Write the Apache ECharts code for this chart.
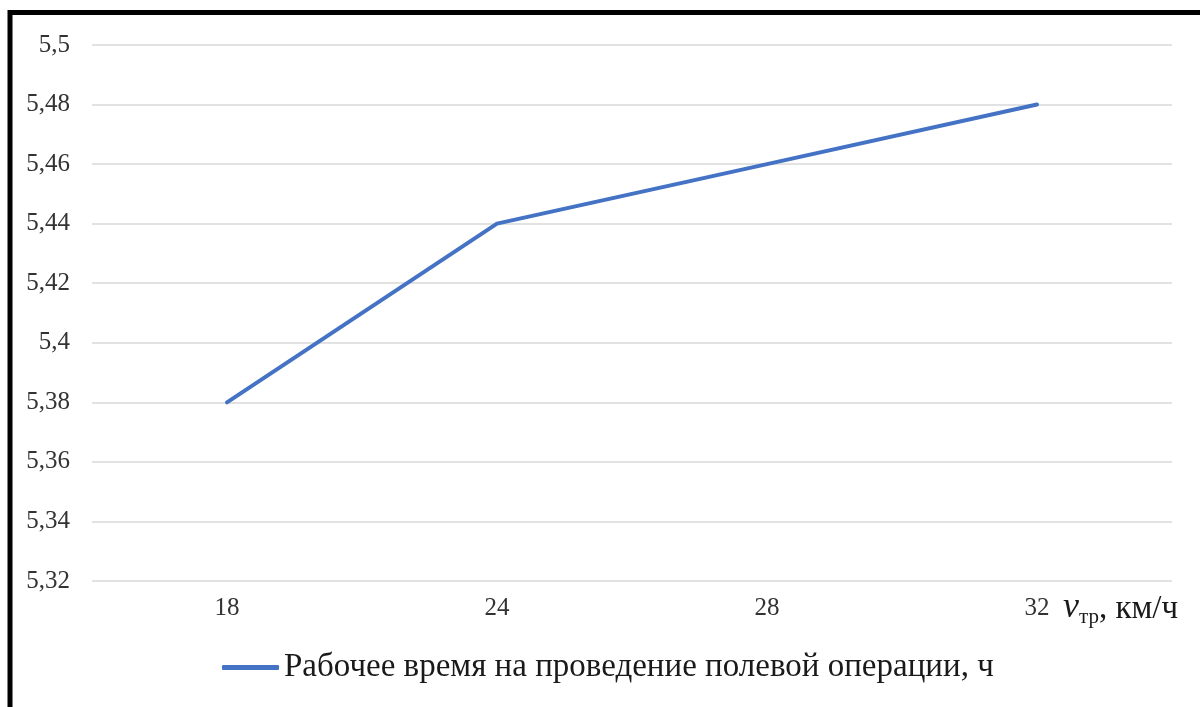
<!DOCTYPE html>
<html>
<head>
<meta charset="utf-8">
<script src="https://cdn.jsdelivr.net/npm/echarts@6/dist/echarts.min.js"></script>
<style>
  html, body { margin: 0; padding: 0; background: #fff; }
  #chart { width: 1200px; height: 707px; }
</style>
</head>
<body>
<div id="chart"></div>
<script>
// Tractor speed, km/h
const speeds = ['18', '24', '28', '32'];
// Working time for the field operation, h
const workTime = [5.38, 5.44, 5.46, 5.48];
const seriesName = 'Рабочее время на проведение полевой операции, ч';

const serif = '"Liberation Serif", "DejaVu Serif", serif';
const chart = echarts.init(document.getElementById('chart'));

chart.setOption({
  backgroundColor: '#ffffff',
  animation: false,
  graphic: [{
    type: 'rect',
    shape: { x: 10, y: 12.5, width: 1400, height: 900 },
    style: { fill: 'none', stroke: '#000', lineWidth: 5 },
    z: 100
  }],
  grid: { left: 92, right: 28, top: 45, bottom: 126 },
  legend: {
    data: [seriesName],
    left: 217,
    top: 646,
    icon: 'roundRect',
    itemWidth: 57,
    itemHeight: 5,
    itemGap: 2,
    textStyle: { fontFamily: serif, fontSize: 33, color: '#1a1a1a' }
  },
  xAxis: {
    type: 'category',
    data: speeds,
    boundaryGap: true,
    axisLine: { show: false },
    axisTick: { show: false },
    axisLabel: { fontFamily: serif, fontSize: 25, color: '#333', margin: 15 },
    name: '{v|v}{sub|тр}{t|, км/ч}',
    nameLocation: 'end',
    nameGap: -109,
    nameTextStyle: {
      verticalAlign: 'top',
      padding: [9, 0, 0, 0],
      rich: {
        v: { fontFamily: serif, fontStyle: 'italic', fontSize: 36, color: '#1a1a1a', verticalAlign: 'bottom', padding: [0, 0, 2, 0] },
        sub: { fontFamily: serif, fontSize: 21, color: '#1a1a1a', verticalAlign: 'bottom' },
        t: { fontFamily: serif, fontSize: 33, color: '#1a1a1a', verticalAlign: 'bottom', padding: [0, 0, 2, 0] }
      }
    }
  },
  yAxis: {
    type: 'value',
    min: 5.32,
    max: 5.5,
    interval: 0.02,
    axisLine: { show: false },
    axisTick: { show: false },
    splitLine: { lineStyle: { color: '#d9d9d9', width: 1.5 } },
    axisLabel: {
      fontFamily: serif, fontSize: 25, color: '#333', margin: 22,
      formatter: v => String(Number(v.toFixed(2))).replace('.', ',')
    }
  },
  series: [{
    name: seriesName,
    type: 'line',
    data: workTime,
    symbol: 'none',
    lineStyle: { color: '#4472C4', width: 4, cap: 'round' },
    itemStyle: { color: '#4472C4' }
  }]
});
</script>
</body>
</html>
